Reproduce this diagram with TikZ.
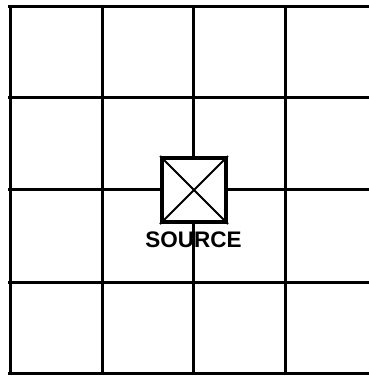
\documentclass[tikz,border=0pt]{standalone}
\usepackage{fontspec}
\setmainfont{Liberation Sans}
\begin{document}
\begin{tikzpicture}[x=1pt,y=-1pt,
  gridline/.style={line width=3pt,black},
  srcbox/.style={draw=black,fill=white,line width=4pt,minimum width=64pt,minimum height=64pt,inner sep=0pt},
  diag/.style={line width=2pt,black},
  lbl/.style={font=\bfseries\fontsize{22.5}{22.5}\selectfont,inner sep=0pt,text depth=0pt}]
\useasboundingbox (0,0) rectangle (369,376);
\begin{scope}
\clip (0,0) rectangle (369,376);
\foreach \y in {6,97.5,189,282,373}
  \draw[gridline] (8.5,\y) -- (380,\y);
\foreach \x in {10,102,193.5,285}
  \draw[gridline] (\x,4.5) -- (\x,374.5);
\end{scope}
\node[srcbox] (src) at (194,190) {};
\draw[diag] (src.north west) -- (src.south east);
\draw[diag] (src.north east) -- (src.south west);
\node[lbl] (srclabel) at (193.5,239.7) {SOURCE};
\end{tikzpicture}
\end{document}
